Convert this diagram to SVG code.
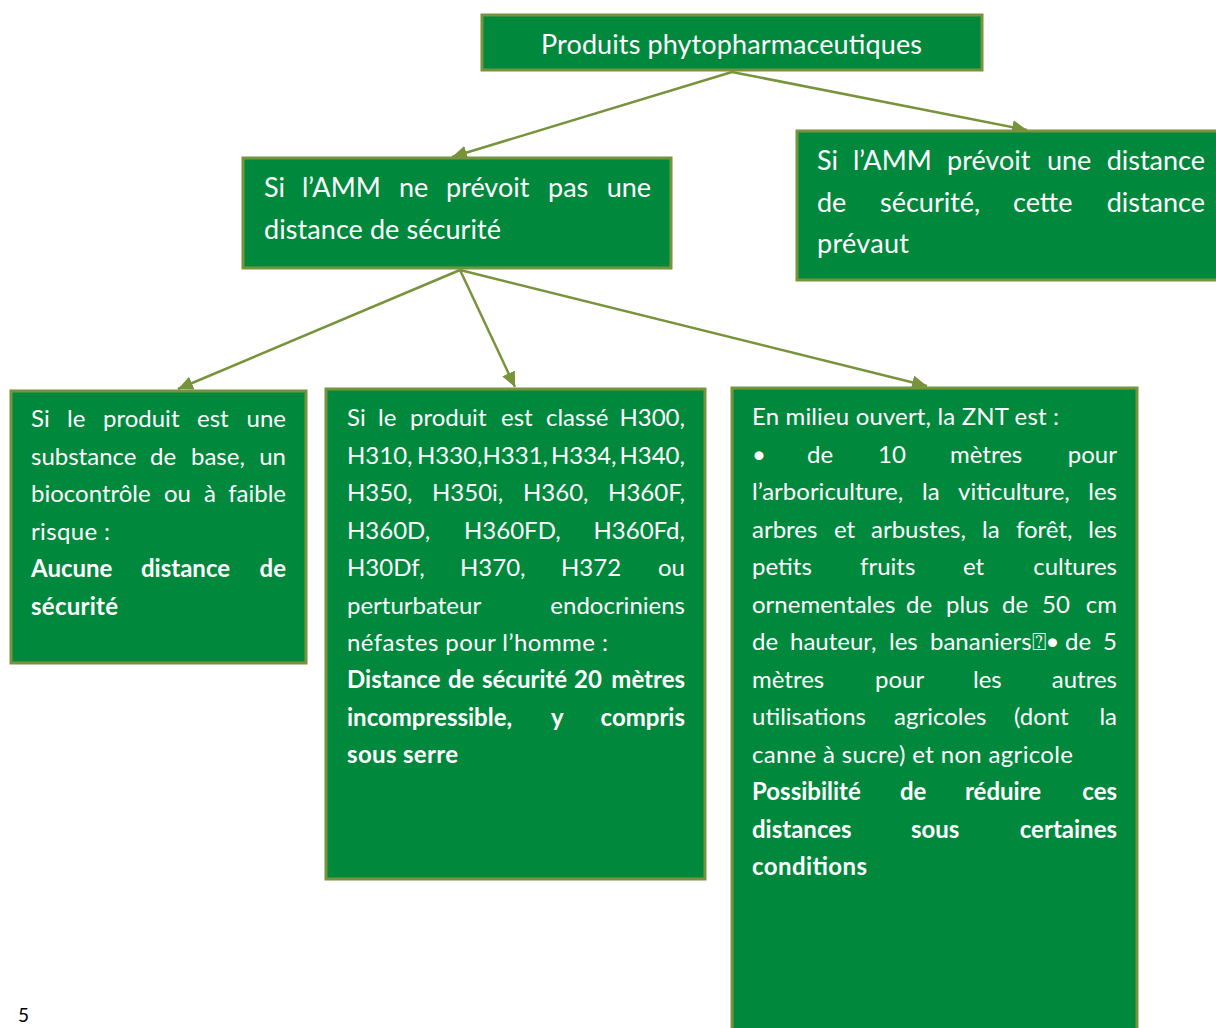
<svg xmlns="http://www.w3.org/2000/svg" width="1216" height="1028" viewBox="0 0 1216 1028">
<style>
.box{fill:#00893D;stroke:#77933C;stroke-width:3}
.t{font-family:Lato,"Open Sans","Liberation Sans",sans-serif;font-size:24px;fill:#fff}
.m{font-size:27px}
.b{font-weight:bold}
.e{text-anchor:end}
.c{fill:none;stroke:#77933C;stroke-width:2.5}
</style>
<defs>
<marker id="ah" markerUnits="userSpaceOnUse" markerWidth="16" markerHeight="14" refX="15" refY="7" orient="auto" viewBox="0 0 16 14">
<path d="M0,0 L15,7 L0,14 z" fill="#77933C"/>
</marker>
</defs>
<rect width="1216" height="1028" fill="#fff"/>
<g id="connectors">
<line class="c" x1="732" y1="72" x2="452" y2="157" marker-end="url(#ah)"/>
<line class="c" x1="732" y1="72" x2="1027" y2="130" marker-end="url(#ah)"/>
<line class="c" x1="460" y1="270" x2="178" y2="389" marker-end="url(#ah)"/>
<line class="c" x1="460" y1="270" x2="515" y2="387" marker-end="url(#ah)"/>
<line class="c" x1="460" y1="270" x2="927" y2="386" marker-end="url(#ah)"/>
</g>
<g id="node-root">
<rect class="box" x="482" y="15" width="500" height="55"/>
<text class="t m" x="541" y="54" textLength="381" lengthAdjust="spacing">Produits phytopharmaceutiques</text>
</g>
<g id="node-no-distance">
<rect class="box" x="243" y="158" width="428" height="110"/>
<text class="t m" y="197"><tspan x="264">Si </tspan><tspan x="302">l’AMM </tspan><tspan x="399">ne </tspan><tspan x="446">prévoit </tspan><tspan x="548">pas </tspan><tspan class="e" x="651">une</tspan></text>
<text class="t m" x="264" y="239" textLength="237" lengthAdjust="spacing">distance de sécurité</text>
</g>
<g id="node-amm-distance">
<rect class="box" x="797" y="131" width="425" height="149"/>
<text class="t m" y="170"><tspan x="817">Si </tspan><tspan x="853">l’AMM </tspan><tspan x="947">prévoit </tspan><tspan x="1047">une </tspan><tspan class="e" x="1205">distance</tspan></text>
<text class="t m" y="212"><tspan x="817">de </tspan><tspan x="880">sécurité, </tspan><tspan x="1013">cette </tspan><tspan class="e" x="1205">distance</tspan></text>
<text class="t m" x="817" y="253" textLength="92" lengthAdjust="spacing">prévaut</text>
</g>
<g id="node-base">
<rect class="box" x="11" y="391" width="295" height="272"/>
<text class="t" y="427"><tspan x="31">Si </tspan><tspan x="67">le </tspan><tspan x="103">produit </tspan><tspan x="197">est </tspan><tspan class="e" x="286">une</tspan></text>
<text class="t" y="465"><tspan x="31">substance </tspan><tspan x="150">de </tspan><tspan x="191">base, </tspan><tspan class="e" x="286">un</tspan></text>
<text class="t" y="502"><tspan x="31">biocontrôle </tspan><tspan x="164">ou </tspan><tspan x="204">à </tspan><tspan class="e" x="286">faible</tspan></text>
<text class="t" x="31" y="540" textLength="79" lengthAdjust="spacing">risque :</text>
<text class="t b" y="577"><tspan x="31">Aucune </tspan><tspan x="141">distance </tspan><tspan class="e" x="286">de</tspan></text>
<text class="t b" x="31" y="615" textLength="87" lengthAdjust="spacing">sécurité</text>
</g>
<g id="node-h-class">
<rect class="box" x="326" y="389" width="379" height="490"/>
<text class="t" y="426"><tspan x="347">Si </tspan><tspan x="378">le </tspan><tspan x="410">produit </tspan><tspan x="501">est </tspan><tspan x="546">classé </tspan><tspan class="e" x="685">H300,</tspan></text>
<text class="t" y="464"><tspan x="347">H310, </tspan><tspan x="417">H330,H331, </tspan><tspan x="551">H334, </tspan><tspan class="e" x="685">H340,</tspan></text>
<text class="t" y="501"><tspan x="347">H350, </tspan><tspan x="432">H350i, </tspan><tspan x="523">H360, </tspan><tspan class="e" x="685">H360F,</tspan></text>
<text class="t" y="539"><tspan x="347">H360D, </tspan><tspan x="464">H360FD, </tspan><tspan class="e" x="685">H360Fd,</tspan></text>
<text class="t" y="576"><tspan x="347">H30Df, </tspan><tspan x="460">H370, </tspan><tspan x="561">H372 </tspan><tspan class="e" x="685">ou</tspan></text>
<text class="t" y="614"><tspan x="347">perturbateur </tspan><tspan class="e" x="685">endocriniens</tspan></text>
<text class="t" x="347" y="651" textLength="261" lengthAdjust="spacing">néfastes pour l’homme :</text>
<text class="t b" y="688"><tspan x="347">Distance </tspan><tspan x="448">de </tspan><tspan x="482">sécurité </tspan><tspan x="574">20 </tspan><tspan class="e" x="685">mètres</tspan></text>
<text class="t b" y="726"><tspan x="347">incompressible, </tspan><tspan x="551">y </tspan><tspan class="e" x="685">compris</tspan></text>
<text class="t b" x="347" y="763" textLength="111" lengthAdjust="spacing">sous serre</text>
</g>
<g id="node-znt">
<rect class="box" x="732" y="388" width="405" height="650"/>
<text class="t" x="752" y="425" textLength="307" lengthAdjust="spacing">En milieu ouvert, la ZNT est :</text>
<text class="t" y="463"><tspan x="752">• </tspan><tspan x="807">de </tspan><tspan x="878">10 </tspan><tspan x="950">mètres </tspan><tspan class="e" x="1117">pour</tspan></text>
<text class="t" y="500"><tspan x="752">l’arboriculture, </tspan><tspan x="922">la </tspan><tspan x="958">viticulture, </tspan><tspan class="e" x="1117">les</tspan></text>
<text class="t" y="538"><tspan x="752">arbres </tspan><tspan x="834">et </tspan><tspan x="871">arbustes, </tspan><tspan x="982">la </tspan><tspan x="1016">forêt, </tspan><tspan class="e" x="1117">les</tspan></text>
<text class="t" y="575"><tspan x="752">petits </tspan><tspan x="860">fruits </tspan><tspan x="963">et </tspan><tspan class="e" x="1117">cultures</tspan></text>
<text class="t" y="613"><tspan x="752">ornementales </tspan><tspan x="906">de </tspan><tspan x="946">plus </tspan><tspan x="1002">de </tspan><tspan x="1042">50 </tspan><tspan class="e" x="1117">cm</tspan></text>
<text class="t" y="650"><tspan x="752">de </tspan><tspan x="790">hauteur, </tspan><tspan x="889">les </tspan><tspan x="930">bananiers⍰• </tspan><tspan x="1065">de </tspan><tspan class="e" x="1117">5</tspan></text>
<text class="t" y="688"><tspan x="752">mètres </tspan><tspan x="875">pour </tspan><tspan x="973">les </tspan><tspan class="e" x="1117">autres</tspan></text>
<text class="t" y="725"><tspan x="752">utilisations </tspan><tspan x="894">agricoles </tspan><tspan x="1014">(dont </tspan><tspan class="e" x="1117">la</tspan></text>
<text class="t" x="752" y="763" textLength="321" lengthAdjust="spacing">canne à sucre) et non agricole</text>
<text class="t b" y="800"><tspan x="752">Possibilité </tspan><tspan x="900">de </tspan><tspan x="965">réduire </tspan><tspan class="e" x="1117">ces</tspan></text>
<text class="t b" y="838"><tspan x="752">distances </tspan><tspan x="911">sous </tspan><tspan class="e" x="1117">certaines</tspan></text>
<text class="t b" x="752" y="875" textLength="115" lengthAdjust="spacing">conditions</text>
</g>
<text x="18" y="1022" font-family="Lato,'Liberation Sans',sans-serif" font-size="19" fill="#000">5</text>
</svg>
